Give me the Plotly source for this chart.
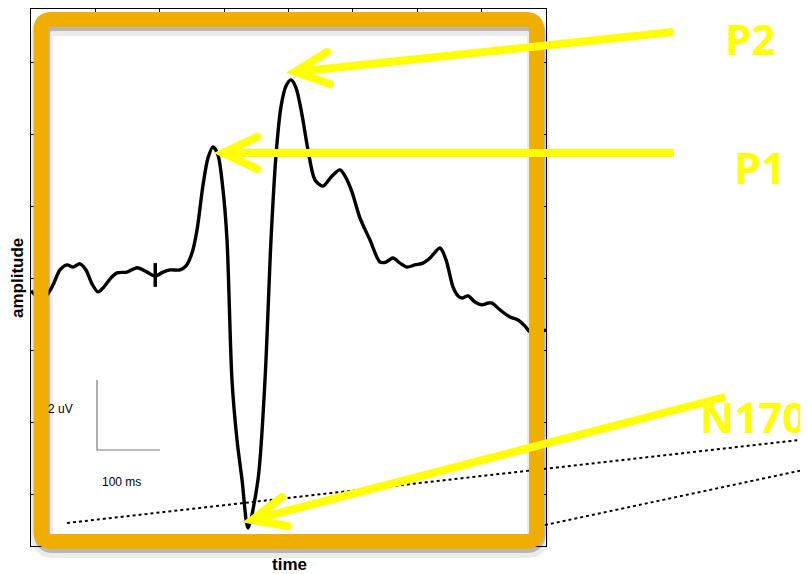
import plotly.graph_objects as go

# ---- data (ERP waveform, time in ms, amplitude in uV) ----
time_ms = [-200.0, -186.0, -175.1, -165.8, -155.0, -144.1, -134.8, -123.9, -114.6, -105.2,
           -95.9, -86.6, -75.7, -66.4, -50.9, -35.3, -19.8, -7.4, 5.0, 15.9,
           31.5, 40.8, 50.1, 57.9, 67.2, 74.9, 82.7, 90.5, 98.3, 104.5,
           112.2, 120.0, 127.8, 137.1, 152.6, 163.5, 172.8, 180.6,
           188.3, 196.1, 203.9, 211.7, 221.0, 230.3, 241.2, 253.6, 267.6, 280.0,
           289.3, 298.6, 311.1, 326.6, 342.1, 351.5, 362.3, 373.2, 384.1, 396.5,
           408.9, 419.8, 435.3, 444.7, 455.5, 463.3, 469.5, 478.8, 489.7, 500.6,
           510.0, 516.2, 528.6, 544.1, 556.5, 567.4, 575.1, 600.0]
amp_uv = [-0.33, -0.53, -0.44, -0.17, 0.25, 0.39, 0.33, 0.42, 0.25, -0.14,
          -0.36, -0.22, 0.03, 0.17, 0.19, 0.31, 0.19, 0.08, 0.19, 0.25,
          0.25, 0.36, 0.72, 1.36, 2.61, 3.36, 3.67, 3.44, 2.47, 1.08,
          -2.81, -4.47, -5.58, -6.92, -5.58, -2.81, 1.08, 3.44,
          4.78, 5.36, 5.53, 5.31, 4.56, 3.58, 2.75, 2.58, 2.86, 3.03,
          2.81, 2.42, 1.69, 1.08, 0.47, 0.47, 0.58, 0.44, 0.33, 0.39,
          0.44, 0.58, 0.86, 0.53, -0.22, -0.47, -0.53, -0.47, -0.64, -0.72,
          -0.67, -0.67, -0.86, -1.06, -1.14, -1.31, -1.47, -1.42]
onset_ms = -7
onset_span_uv = [-0.22, 0.44]
x_ticks = [-200, -100, 0, 100, 200, 300, 400, 500, 600]
y_ticks = [-6, -4, -2, 0, 2, 4, 6]
x_range = [-200, 600]
y_range = [-7.42, 7.5]

labels = ["P2", "P1", "N170"]

# ---- layout helpers (screen pixel -> paper) ----
PAGE_OFFSET = 8          # default body margin of the html page
L, R, T, B = 31, 546, 9, 546
def px(x):
    return (x - L) / (R - L)
def py(y):
    return (B - y) / (B - T)
def path(points):
    return "M " + " L ".join(f"{px(a):.5f},{py(b):.5f}" for a, b in points)

def rounded_rect(x0, y0, x1, y1, r):
    def P(a, b):
        return f"{px(a):.5f},{py(b):.5f}"
    return (f"M {P(x0 + r, y0)} L {P(x1 - r, y0)} Q {P(x1, y0)} {P(x1, y0 + r)} "
            f"L {P(x1, y1 - r)} Q {P(x1, y1)} {P(x1 - r, y1)} "
            f"L {P(x0 + r, y1)} Q {P(x0, y1)} {P(x0, y1 - r)} "
            f"L {P(x0, y0 + r)} Q {P(x0, y0)} {P(x0 + r, y0)} Z")

fig = go.Figure()
fig.add_trace(go.Scatter(x=time_ms, y=amp_uv, mode="lines",
                         line=dict(color="black", width=3.4, shape="spline", smoothing=0.8),
                         hoverinfo="skip", showlegend=False))

shapes = []
# stimulus onset marker
shapes.append(dict(type="line", xref="x", yref="y", x0=onset_ms, x1=onset_ms,
                   y0=onset_span_uv[0], y1=onset_span_uv[1],
                   line=dict(color="black", width=3.5)))
# scale bar
shapes.append(dict(type="path", xref="paper", yref="paper",
                   path=path([(97, 380), (97, 450), (160, 450)]),
                   line=dict(color="#777777", width=1.2)))
# dotted lines
shapes.append(dict(type="line", xref="paper", yref="paper",
                   x0=px(67), y0=py(523), x1=px(808), y1=py(439),
                   line=dict(color="black", width=2, dash="dot")))
shapes.append(dict(type="line", xref="paper", yref="paper",
                   x0=px(545), y0=py(525), x1=px(808), y1=py(469),
                   line=dict(color="black", width=2, dash="dot")))
# frame shadow
shapes.append(dict(type="path", xref="paper", yref="paper",
                   path=rounded_rect(42, 25, 538, 547, 11),
                   line=dict(color="rgba(0,0,0,0.08)", width=22)))
shapes.append(dict(type="path", xref="paper", yref="paper",
                   path=rounded_rect(42, 23, 537.5, 545, 11),
                   line=dict(color="rgba(0,0,0,0.22)", width=16)))
# orange frame
shapes.append(dict(type="path", xref="paper", yref="paper",
                   path=rounded_rect(41, 19.5, 536.5, 541.5, 10),
                   line=dict(color="#EFAE00", width=15)))
# yellow arrows
yellow = "#FFFF00"
arrows = [
    [(295, 72), (673, 32)], [(327, 52), (295, 72), (330, 84)],
    [(223, 153), (674, 153)], [(257, 137), (223, 153), (257, 169)],
    [(252, 520), (725, 397)], [(282, 497), (252, 520), (288, 526)],
]
for pts in arrows:
    shapes.append(dict(type="path", xref="paper", yref="paper", path=path(pts),
                       line=dict(color=yellow, width=8)))
for (a, b) in [(327, 52), (330, 84), (257, 137), (257, 169), (282, 497), (288, 526)]:
    shapes.append(dict(type="circle", xref="paper", yref="paper",
                       x0=px(a - 4), x1=px(a + 4), y0=py(b + 4), y1=py(b - 4),
                       fillcolor=yellow, line=dict(width=0)))

annotations = [
    dict(text="<b>amplitude</b>", x=px(17), y=py(278), textangle=-90,
         font=dict(family="Liberation Sans, Arial", size=17, color="black")),
    dict(text="<b>time</b>", x=px(289), y=py(564),
         font=dict(family="Liberation Sans, Arial", size=17, color="black")),
    dict(text="2 uV", x=px(60), y=py(409),
         font=dict(family="Liberation Sans, Arial", size=12, color="black")),
    dict(text="100 ms", x=px(121), y=py(482),
         font=dict(family="Liberation Sans, Arial", size=12, color="black")),
    dict(text="<b>" + labels[0] + "</b>", x=px(750), y=py(38),
         font=dict(family="Open Sans", size=42, color=yellow)),
    dict(text="<b>" + labels[1] + "</b>", x=px(760), y=py(168),
         font=dict(family="Open Sans", size=43, color=yellow)),
    dict(text="<b>" + labels[2] + "</b>", x=px(698), y=py(416), xanchor="left",
         font=dict(family="Open Sans", size=42, color=yellow)),
]
for a in annotations:
    a.update(xref="paper", yref="paper", showarrow=False)
    a.setdefault("xanchor", "center")
    a.setdefault("yanchor", "middle")

W, H = 808 - PAGE_OFFSET, 574 - PAGE_OFFSET
ml, mt = L - PAGE_OFFSET, T - PAGE_OFFSET
fig.update_layout(
    width=W, height=H,
    margin=dict(l=ml, r=W - ml - (R - L), t=mt, b=H - mt - (B - T), pad=0),
    paper_bgcolor="white", plot_bgcolor="white",
    shapes=shapes, annotations=annotations, showlegend=False,
    xaxis=dict(range=x_range, tickvals=x_ticks, showticklabels=False, ticks="inside",
               ticklen=3, tickcolor="black", showline=True, linecolor="black", linewidth=1,
               mirror="ticks", showgrid=False, zeroline=False, fixedrange=True),
    yaxis=dict(range=y_range, tickvals=y_ticks, showticklabels=False, ticks="inside",
               ticklen=3, tickcolor="black", showline=True, linecolor="black", linewidth=1,
               mirror="ticks", showgrid=False, zeroline=False, fixedrange=True),
)
fig.write_html("out.html", config={"displayModeBar": False})
